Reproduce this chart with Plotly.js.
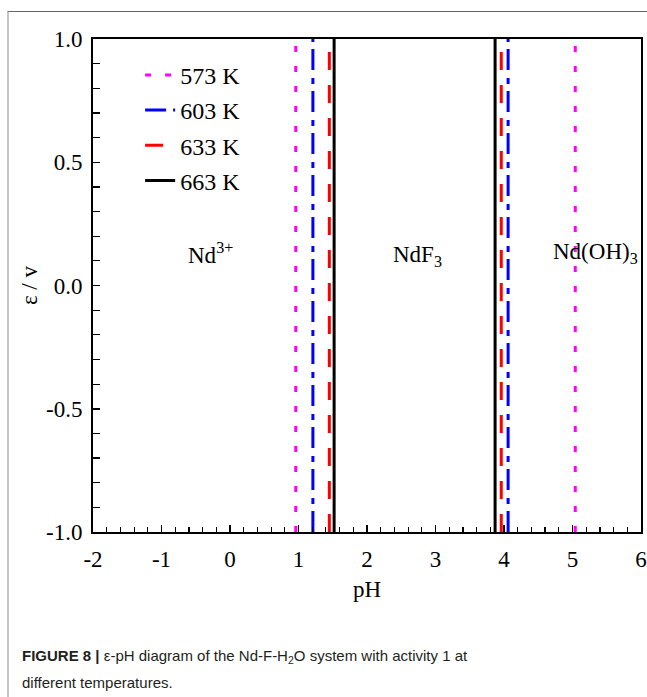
<!DOCTYPE html>
<html>
<head>
<meta charset="utf-8">
<script src="https://cdn.plot.ly/plotly-3.0.1.min.js"></script>
<style>
  html, body { margin: 0; padding: 0; background: #fff; }
  #wrap { position: relative; width: 647px; height: 697px; overflow: hidden; }
  #chart { position: absolute; left: 0; top: 0; width: 647px; height: 697px; }
  #frame { position: absolute; left: 7px; top: 11px; width: 650px; height: 700px;
           border-top: 1.5px solid #666; border-left: 2px solid #c4c4c4; pointer-events: none; }
</style>
</head>
<body>
<div id="wrap">
  <div id="chart"></div>
  <div id="frame"></div>
</div>
<script>
// ---- data ----
const temperatures = ['573 K', '603 K', '633 K', '663 K'];
// boundary pH values: Nd3+/NdF3 and NdF3/Nd(OH)3
const boundaryLow  = [0.96, 1.21, 1.45, 1.52];
const boundaryHigh = [5.04, 4.06, 3.96, 3.87];
const potentialRange = [-1.0, 1.0];
const lineColors = ['#ff00ff', '#0000ff', '#ff0000', '#000000'];
const lineDashes = ['6px,14px', '21px,7px,6px,8px', '18px,15px', 'solid'];

const xTickVals = [-2, -1, 0, 1, 2, 3, 4, 5, 6];
const xTickText = ['-2', '-1', '0', '1', '2', '3', '4', '5', '6'];
const yTickVals = [-1.0, -0.5, 0.0, 0.5, 1.0];
const yTickText = ['-1.0', '-0.5', '0.0', '0.5', '1.0'];

const regionLabels = ['Nd<sup>3+</sup>', 'NdF<sub>3</sub>', 'Nd(OH)<sub>3</sub>'];
const regionX = [-0.28, 2.73, 5.33];
const regionY = [0.13, 0.12, 0.13];

const captionLine1 = '<b>FIGURE 8 |</b> ε-pH diagram of the Nd-F-H<sub>2</sub>O system with activity 1 at';
const captionLine2 = 'different temperatures.';

// ---- traces ----
const serif = 'Liberation Serif, Times New Roman, serif';
const traces = temperatures.map((name, i) => ({
  type: 'scatter',
  mode: 'lines',
  name: name,
  legendgroup: 'g' + i,
  x: [boundaryLow[i], boundaryLow[i], null, boundaryHigh[i], boundaryHigh[i]],
  y: [potentialRange[0], potentialRange[1], null, potentialRange[0], potentialRange[1]],
  line: { color: lineColors[i], width: 3, dash: lineDashes[i] },
  hoverinfo: 'skip'
}));

const annotations = regionLabels.map((t, i) => ({
  text: t, x: regionX[i], y: regionY[i], xref: 'x', yref: 'y',
  showarrow: false, font: { family: serif, size: 23, color: '#000' }
}));
const capFont = { family: 'Liberation Sans, Arial, sans-serif', size: 15, color: '#231f20' };
annotations.push({ text: captionLine1, xref: 'paper', yref: 'paper', x: -0.133, y: -0.2535,
  xanchor: 'left', yanchor: 'middle', showarrow: false, font: capFont, align: 'left' });
annotations.push({ text: captionLine2, xref: 'paper', yref: 'paper', x: -0.133, y: -0.306,
  xanchor: 'left', yanchor: 'middle', showarrow: false, font: capFont, align: 'left' });

const axisCommon = {
  showgrid: false, zeroline: false, showline: true, linecolor: '#000', linewidth: 2,
  mirror: true, ticks: 'inside', ticklen: 7, tickwidth: 1.5, tickcolor: '#000',
  tickfont: { family: serif, size: 23, color: '#000' }, tickmode: 'array'
};

const layout = {
  width: 647, height: 697,
  margin: { l: 93, r: 6, t: 39, b: 165 },
  paper_bgcolor: 'rgba(0,0,0,0)', plot_bgcolor: '#fff',
  showlegend: true,
  legend: {
    x: 0.086, y: 0.972, xanchor: 'left', yanchor: 'top',
    bgcolor: 'rgba(0,0,0,0)', borderwidth: 0,
    font: { family: serif, size: 24, color: '#000' },
    traceorder: 'grouped', tracegroupgap: 1, itemwidth: 30
  },
  xaxis: Object.assign({}, axisCommon, {
    range: [-2, 6], tickvals: xTickVals, ticktext: xTickText,
    ticklabelstandoff: 5,
    minor: { tickmode: 'linear', tick0: -2, dtick: 0.2, ticks: 'inside', ticklen: 5, tickwidth: 1.2, tickcolor: '#000' },
    title: { text: 'pH', font: { family: serif, size: 23, color: '#000' }, standoff: 10 }
  }),
  yaxis: Object.assign({}, axisCommon, {
    range: [-1, 1], tickvals: yTickVals, ticktext: yTickText,
    ticklabelstandoff: 4,
    minor: { tickmode: 'linear', tick0: -1, dtick: 0.1, ticks: 'inside', ticklen: 7, tickwidth: 1.2, tickcolor: '#000' },
    title: { text: 'ε / v', font: { family: serif, size: 23, color: '#000' }, standoff: 2 }
  }),
  annotations: annotations
};

Plotly.newPlot('chart', traces, layout, { staticPlot: true, displayModeBar: false });
</script>
</body>
</html>
